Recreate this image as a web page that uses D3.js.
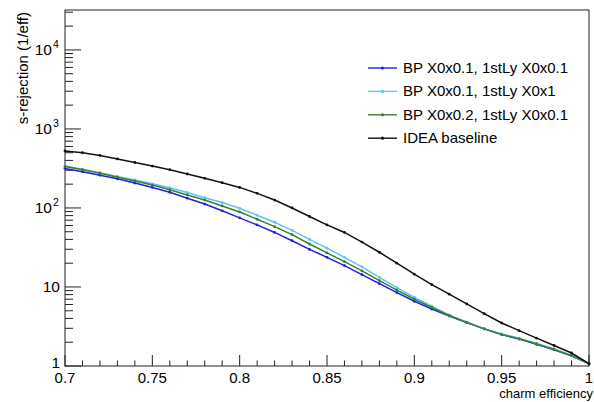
<!DOCTYPE html>
<html>
<head>
<meta charset="utf-8">
<script src="https://cdn.jsdelivr.net/npm/d3@7"></script>
<style>
  body { margin: 0; background: #fff; }
  text { font-family: "Liberation Sans", Arial, sans-serif; fill: #000; }
</style>
</head>
<body>
<div id="chart"></div>
<script>
// charm efficiency points, 0.70 .. 1.00
const effs = d3.range(31).map(i => +(0.70 + i * 0.01).toFixed(2));

const bp01_ly01 = [316, 288, 260, 234, 207, 182, 158, 133, 112, 92, 75, 61, 49, 38.5, 29.9, 23.7, 18.6, 14.3, 11.0, 8.5, 6.6, 5.25, 4.3, 3.55, 2.95, 2.51, 2.19, 1.88, 1.60, 1.35, 1.07];
const bp01_ly1 = [339, 309, 279, 251, 226, 202, 180, 157, 135, 117, 99, 81, 66, 52, 40, 31, 23.7, 18.0, 13.2, 9.8, 7.4, 5.7, 4.4, 3.6, 2.95, 2.54, 2.24, 1.93, 1.66, 1.36, 1.07];
const bp02_ly01 = [335, 305, 275, 245, 219, 195, 170, 146, 126, 106, 89, 72, 58, 46, 35, 27, 20.9, 16.0, 12.0, 9.1, 7.0, 5.5, 4.36, 3.55, 2.95, 2.51, 2.21, 1.9, 1.62, 1.35, 1.07];
const idea = [527, 501, 462, 417, 376, 339, 305, 269, 237, 209, 182, 153, 126, 100, 78, 61, 49, 37, 27.5, 20, 14.5, 10.7, 8.1, 6.1, 4.6, 3.5, 2.8, 2.25, 1.82, 1.46, 1.07];

const seriesNames = ["BP X0x0.1, 1stLy X0x0.1", "BP X0x0.1, 1stLy X0x1", "BP X0x0.2, 1stLy X0x0.1", "IDEA baseline"];
const seriesColors = ["#1f1fe6", "#5ac6ee", "#3c7d34", "#111111"];
const seriesValues = [bp01_ly01, bp01_ly1, bp02_ly01, idea];

const xTicks = [0.7, 0.75, 0.8, 0.85, 0.9, 0.95, 1];
const xTickLabels = ["0.7", "0.75", "0.8", "0.85", "0.9", "0.95", "1"];

const W = 594, H = 402;
const L = 65, R = 589, T = 10, B = 366;

const svg = d3.select("#chart").append("svg").attr("width", W).attr("height", H);

const x = d3.scaleLinear().domain([0.7, 1.0]).range([L, R]);
const y = d3.scaleLog().domain([1, 32000]).range([B, T]);

// frame
svg.append("rect").attr("x", L).attr("y", T).attr("width", R - L).attr("height", B - T)
  .attr("fill", "none").attr("stroke", "#222").attr("stroke-width", 1);

// x ticks: majors every 0.05, minors every 0.01
let minorX = d3.range(0, 31).map(i => 0.7 + i * 0.01);
svg.append("g").selectAll("line").data(minorX).join("line")
  .attr("x1", d => x(d)).attr("x2", d => x(d))
  .attr("y1", B).attr("y2", (d, i) => i % 5 == 0 ? B - 11 : B - 5.5)
  .attr("stroke", "#222").attr("stroke-width", 1);

svg.append("g").selectAll("text").data(xTicks).join("text")
  .attr("x", d => x(d)).attr("y", 382.5)
  .attr("text-anchor", "middle").attr("font-size", "15px")
  .text((d, i) => xTickLabels[i]);

// y ticks (log)
let yMinor = [];
for (let e = 0; e <= 4; e++) {
  for (let m = 1; m <= 9; m++) {
    let v = m * Math.pow(10, e);
    if (v <= 32000) yMinor.push({ v: v, major: m == 1 });
  }
}
svg.append("g").selectAll("line").data(yMinor).join("line")
  .attr("x1", L).attr("x2", d => d.major ? L + 16 : L + 8)
  .attr("y1", d => y(d.v)).attr("y2", d => y(d.v))
  .attr("stroke", "#222").attr("stroke-width", 1);

const yLab = svg.append("g");
[[1, "1", null], [10, "10", null], [100, "10", "2"], [1000, "10", "3"], [10000, "10", "4"]].forEach(function (t) {
  yLab.append("text").attr("x", t[2] ? 52 : 60).attr("y", t[0] == 1 ? y(t[0]) + 2 : y(t[0]) + 5.5)
    .attr("text-anchor", "end").attr("font-size", "15.5px").text(t[1]);
  if (t[2]) {
    yLab.append("text").attr("x", 53).attr("y", y(t[0]) - 1.5)
      .attr("font-size", "10.5px").text(t[2]);
  }
});

// axis titles
svg.append("text").attr("x", 593).attr("y", 398).attr("text-anchor", "end")
  .attr("font-size", "13px").text("charm efficiency");
svg.append("text").attr("transform", "translate(28,12) rotate(-90)")
  .attr("text-anchor", "end").attr("font-size", "15px").text("s-rejection (1/eff)");

// curves
const line = d3.line().x((d, i) => x(effs[i])).y(d => y(d));
const plot = svg.append("g");
seriesValues.forEach(function (vals, k) {
  plot.append("path").datum(vals).attr("d", line)
    .attr("fill", "none").attr("stroke", seriesColors[k]).attr("stroke-width", 1.5);
  plot.append("g").selectAll("circle").data(vals).join("circle")
    .attr("cx", (d, i) => x(effs[i])).attr("cy", d => y(d)).attr("r", 1.4)
    .attr("fill", seriesColors[k]);
});

// legend
const leg = svg.append("g");
seriesNames.forEach(function (name, k) {
  let ly = 68 + k * 23.4;
  leg.append("line").attr("x1", 368).attr("x2", 397).attr("y1", ly).attr("y2", ly)
    .attr("stroke", seriesColors[k]).attr("stroke-width", 1.4);
  leg.append("circle").attr("cx", 382.5).attr("cy", ly).attr("r", 1.6).attr("fill", seriesColors[k]);
  leg.append("text").attr("x", 403).attr("y", ly + 5).attr("font-size", "15px").text(name);
});
</script>
</body>
</html>
